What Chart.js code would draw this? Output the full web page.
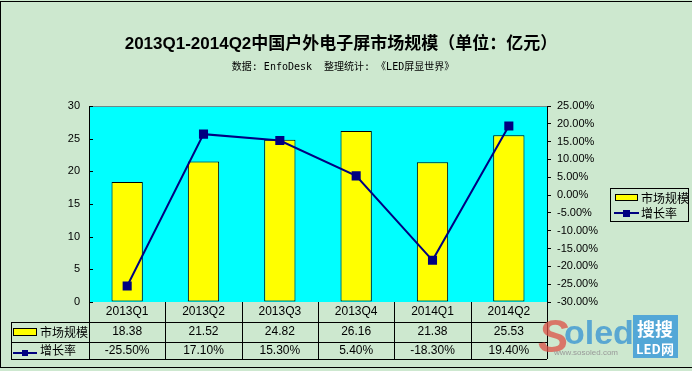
<!DOCTYPE html>
<html>
<head>
<meta charset="utf-8">
<script src="https://cdn.jsdelivr.net/npm/chart.js@4.4.0/dist/chart.umd.min.js"></script>
<style>
    html, body { margin: 0; padding: 0; background: #cde8cf; overflow: hidden; }
    canvas { display: block; }
</style>
</head>
<body>
<canvas id="chart" width="692" height="371"></canvas>
<script>
// datos
const categories = ['2013Q1', '2013Q2', '2013Q3', '2013Q4', '2014Q1', '2014Q2'];
const marketSize = [18.38, 21.52, 24.82, 26.16, 21.38, 25.53];
const growthRate = [-25.5, 17.1, 15.3, 5.4, -18.3, 19.4];
const seriesNames = ['市场规模', '增长率'];
const titleText = '2013Q1-2014Q2中国户外电子屏市场规模（单位：亿元）';
const subtitleText = '数据: EnfoDesk  整理统计: 《LED屏显世界》';

const BG = '#cde8cf';
const PLOT_BG = '#00ffff';
const BAR = '#ffff00';
const LINE = '#000080';
const FONT = '"Liberation Sans", Arial, sans-serif';
const CJK = '"Noto Sans CJK SC", sans-serif';

function line(ctx, x1, y1, x2, y2) {
    ctx.beginPath();
    ctx.moveTo(x1, y1);
    ctx.lineTo(x2, y2);
    ctx.stroke();
}

const decor = {
    id: 'decor',
    beforeDraw(chart) {
        const ctx = chart.ctx;
        const a = chart.chartArea;
        ctx.save();
        ctx.fillStyle = BG;
        ctx.fillRect(0, 0, chart.width, chart.height);
        ctx.fillStyle = PLOT_BG;
        ctx.fillRect(a.left, a.top, a.right - a.left, a.bottom - a.top);
        ctx.strokeStyle = '#6a8a8a';
        ctx.lineWidth = 1;
        line(ctx, a.left, a.top + 0.5, a.right, a.top + 0.5);
        ctx.restore();
    },
    afterDraw(chart) {
        const ctx = chart.ctx;
        const a = chart.chartArea;
        const x = chart.scales.x;
        const yL = chart.scales.y;
        ctx.save();

        // marco exterior (sin lado derecho)
        ctx.strokeStyle = '#000';
        ctx.lineWidth = 1;
        line(ctx, 0, 1.5, chart.width, 1.5);
        line(ctx, 0.5, 1, 0.5, 368);
        line(ctx, 0, 367.5, chart.width, 367.5);

        // titulo
        ctx.fillStyle = '#000';
        ctx.textAlign = 'center';
        ctx.textBaseline = 'middle';
        ctx.font = 'bold 17px ' + FONT + ', ' + CJK;
        ctx.fillText(titleText, 341, 44);
        ctx.font = '10px "DejaVu Sans Mono", ' + CJK;
        ctx.fillText(subtitleText, 343, 67);

        // marcas del eje izquierdo (hacia dentro)
        yL.ticks.forEach(t => {
            const py = Math.round(yL.getPixelForValue(t.value)) + 0.5;
            line(ctx, a.left, py, a.left + 4, py);
        });

        // tabla de datos
        const step = (a.right - a.left) / categories.length;
        const r1 = a.bottom, r2 = 322, r3 = 342, r4 = 359;
        const tLeft = 11;
        ctx.strokeStyle = '#000';
        line(ctx, tLeft, r2 + 0.5, a.right, r2 + 0.5);
        line(ctx, tLeft, r3 + 0.5, a.right, r3 + 0.5);
        line(ctx, tLeft, r4 + 0.5, a.right, r4 + 0.5);
        line(ctx, tLeft + 0.5, r2, tLeft + 0.5, r4);
        for (let i = 0; i <= categories.length; i++) {
            const px = Math.round(a.left + i * step) + 0.5;
            line(ctx, px, r1, px, r4);
        }
        ctx.font = '12px ' + FONT;
        ctx.fillStyle = '#000';
        categories.forEach((c, i) => {
            const cx = x.getPixelForValue(i);
            ctx.fillText(c, cx, 312);
            ctx.fillText(marketSize[i].toFixed(2), cx, 332);
            ctx.fillText(growthRate[i].toFixed(2) + '%', cx, 351);
        });
        // claves de la tabla
        ctx.textAlign = 'left';
        ctx.font = '12px ' + CJK;
        ctx.fillStyle = BAR;
        ctx.fillRect(13.5, 328.5, 23, 7);
        ctx.strokeRect(13.5, 328.5, 23, 7);
        ctx.fillStyle = '#000';
        ctx.fillText(seriesNames[0], 40, 332);
        ctx.strokeStyle = LINE;
        ctx.lineWidth = 2;
        line(ctx, 13, 353, 37, 353);
        ctx.fillStyle = LINE;
        ctx.fillRect(22, 350, 6, 6);
        ctx.fillStyle = '#000';
        ctx.fillText(seriesNames[1], 40, 350);

        // leyenda
        ctx.lineWidth = 1;
        ctx.strokeStyle = '#000';
        ctx.strokeRect(610.5, 188.5, 78, 33);
        ctx.fillStyle = BAR;
        ctx.fillRect(615.5, 194.5, 22, 6);
        ctx.strokeRect(615.5, 194.5, 22, 6);
        ctx.fillStyle = '#000';
        ctx.fillText(seriesNames[0], 641, 198);
        ctx.strokeStyle = LINE;
        ctx.lineWidth = 2;
        line(ctx, 614, 213, 639, 213);
        ctx.fillStyle = LINE;
        ctx.fillRect(623, 210, 7, 7);
        ctx.fillStyle = '#000';
        ctx.fillText(seriesNames[1], 641, 213);

        // marca de agua
        ctx.textBaseline = 'alphabetic';
        ctx.font = 'italic bold 46px ' + FONT;
        ctx.fillStyle = 'rgba(220,80,70,0.75)';
        ctx.fillText('S', 538, 352);
        ctx.font = 'bold 34px ' + FONT;
        ctx.fillStyle = 'rgba(60,150,210,0.8)';
        ctx.fillText('oled', 564, 344);
        ctx.font = '8px ' + FONT;
        ctx.fillStyle = '#999';
        ctx.fillText('www.sosoled.com', 554, 355);
        ctx.fillStyle = 'rgba(70,160,215,0.9)';
        ctx.fillRect(633, 315, 45, 43);
        ctx.fillStyle = '#fff';
        ctx.textAlign = 'center';
        ctx.font = 'bold 18px ' + CJK;
        ctx.fillText('搜搜', 655, 336);
        ctx.font = 'bold 13px ' + CJK;
        ctx.fillText('LED网', 655, 354);
        ctx.restore();
    }
};

const ctx = document.getElementById('chart').getContext('2d');
const chart = new Chart(ctx, {
    data: {
        labels: categories,
        datasets: [{
                type: 'line',
                label: seriesNames[1],
                data: growthRate,
                yAxisID: 'y1',
                borderColor: LINE,
                backgroundColor: LINE,
                borderWidth: 2,
                pointStyle: 'rect',
                pointRadius: 5,
                pointBackgroundColor: LINE,
                pointBorderColor: LINE,
                tension: 0,
                order: 0
            }, {
                type: 'bar',
                label: seriesNames[0],
                data: marketSize,
                yAxisID: 'y',
                backgroundColor: BAR,
                borderColor: '#000',
                borderWidth: 1,
                borderSkipped: false,
                categoryPercentage: 1,
                barPercentage: 0.41,
                order: 1
            }]
    },
    options: {
        responsive: false,
        animation: false,
        devicePixelRatio: 1,
        layout: {padding: {top: 106, bottom: 69, left: 0, right: 0}},
        plugins: {
            legend: {display: false},
            tooltip: {enabled: false},
            title: {display: false}
        },
        scales: {
            x: {
                display: false
            },
            y: {
                position: 'left',
                min: 0,
                max: 30,
                afterFit: s => { s.width = 89; },
                ticks: {stepSize: 5, padding: 9, color: '#000', font: {family: FONT, size: 11}},
                grid: {display: true, drawOnChartArea: false, drawTicks: false},
                border: {color: '#000', width: 1}
            },
            y1: {
                position: 'right',
                min: -30,
                max: 25,
                afterFit: s => { s.width = 145; },
                ticks: {
                    stepSize: 5,
                    padding: 6,
                    color: '#000',
                    font: {family: FONT, size: 11},
                    callback: v => v.toFixed(2) + '%'
                },
                grid: {drawOnChartArea: false, tickLength: 4, color: '#000'},
                border: {color: '#000', width: 1}
            }
        }
    },
    plugins: [decor]
});
</script>
</body>
</html>
